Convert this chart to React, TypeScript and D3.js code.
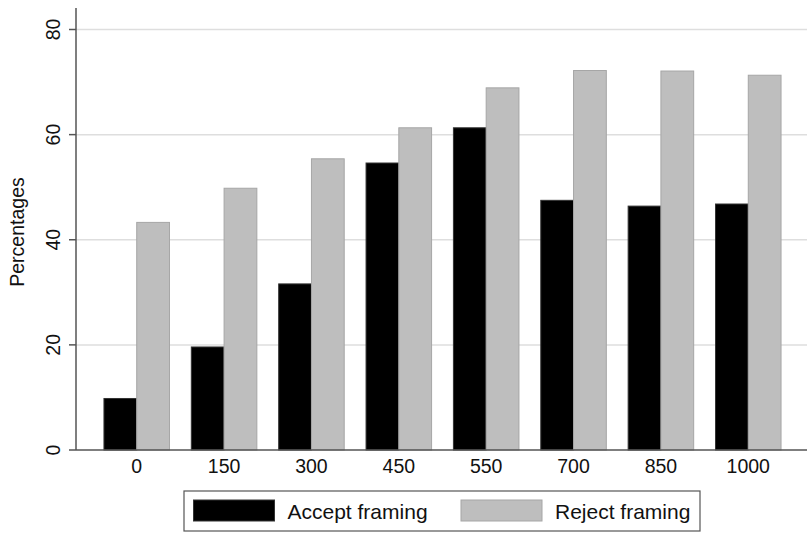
import React, { useEffect, useRef } from "react";
import * as d3 from "d3";

const categories = ["0", "150", "300", "450", "550", "700", "850", "1000"];
const acceptValues = [9.8, 19.6, 31.6, 54.6, 61.3, 47.5, 46.4, 46.8];
const rejectValues = [43.3, 49.8, 55.4, 61.3, 68.9, 72.2, 72.1, 71.3];
const yTicks = [0, 20, 40, 60, 80];
const seriesNames = ["Accept framing", "Reject framing"];

const W = 807;
const H = 533;
const FONT = "'Liberation Sans', Arial, Helvetica, sans-serif";

const App: React.FC = () => {
  const ref = useRef<SVGSVGElement | null>(null);

  useEffect(() => {
    if (!ref.current) return;
    const svg = d3.select(ref.current);
    svg.selectAll("*").remove();

    const left = 76;
    const right = 809;
    const top = 8;
    const bottom = 450;

    const y = d3.scaleLinear().domain([0, 80]).range([bottom, 29.5]);
    const x = d3
      .scaleBand<string>()
      .domain(categories)
      .range([left, right])
      .paddingInner(0.25)
      .paddingOuter(0.32);
    const sub = d3
      .scaleBand<string>()
      .domain(seriesNames)
      .range([0, x.bandwidth()]);

    // gridlines
    svg
      .append("g")
      .selectAll("line")
      .data(yTicks.filter((t) => t > 0))
      .enter()
      .append("line")
      .attr("x1", left)
      .attr("x2", W)
      .attr("y1", (d) => y(d))
      .attr("y2", (d) => y(d))
      .attr("stroke", "#dedede")
      .attr("stroke-width", 1.5);

    const fills = ["#000000", "#bebebe"];
    const strokes = ["#333333", "#a6a6a6"];
    const series = [acceptValues, rejectValues];

    series.forEach((vals, si) => {
      svg
        .append("g")
        .selectAll("rect")
        .data(vals)
        .enter()
        .append("rect")
        .attr("x", (_, i) => (x(categories[i]) ?? 0) + (sub(seriesNames[si]) ?? 0))
        .attr("y", (d) => y(d))
        .attr("width", sub.bandwidth())
        .attr("height", (d) => y(0) - y(d))
        .attr("fill", fills[si])
        .attr("stroke", strokes[si])
        .attr("stroke-width", 1);
    });

    // axes
    svg
      .append("line")
      .attr("x1", left)
      .attr("x2", left)
      .attr("y1", top)
      .attr("y2", bottom)
      .attr("stroke", "#555")
      .attr("stroke-width", 1.5);
    svg
      .append("line")
      .attr("x1", left)
      .attr("x2", W)
      .attr("y1", bottom)
      .attr("y2", bottom)
      .attr("stroke", "#555")
      .attr("stroke-width", 1.5);

    const yt = svg.append("g");
    yTicks.forEach((t) => {
      yt.append("line")
        .attr("x1", left - 7)
        .attr("x2", left)
        .attr("y1", y(t))
        .attr("y2", y(t))
        .attr("stroke", "#555")
        .attr("stroke-width", 1.5);
      yt.append("text")
        .attr("transform", `translate(60,${y(t)}) rotate(-90)`)
        .attr("text-anchor", "middle")
        .attr("font-family", FONT)
        .attr("font-size", 19.5)
        .attr("fill", "#111")
        .text(t);
    });

    svg
      .append("text")
      .attr("transform", `translate(24,232) rotate(-90)`)
      .attr("text-anchor", "middle")
      .attr("font-family", FONT)
      .attr("font-size", 19.5)
      .attr("fill", "#111")
      .text("Percentages");

    svg
      .append("g")
      .selectAll("text")
      .data(categories)
      .enter()
      .append("text")
      .attr("x", (d) => (x(d) ?? 0) + x.bandwidth() / 2)
      .attr("y", 473)
      .attr("text-anchor", "middle")
      .attr("font-family", FONT)
      .attr("font-size", 19.5)
      .attr("fill", "#111")
      .text((d) => d);

    // legend
    const lg = svg.append("g");
    lg.append("rect")
      .attr("x", 184)
      .attr("y", 491)
      .attr("width", 516)
      .attr("height", 40)
      .attr("fill", "#fff")
      .attr("stroke", "#555")
      .attr("stroke-width", 1.2);
    const legendX = [193.5, 461];
    seriesNames.forEach((name, i) => {
      lg.append("rect")
        .attr("x", legendX[i])
        .attr("y", 500)
        .attr("width", 81)
        .attr("height", 21)
        .attr("fill", fills[i])
        .attr("stroke", strokes[i]);
      lg.append("text")
        .attr("x", legendX[i] + 94)
        .attr("y", 519)
        .attr("font-family", FONT)
        .attr("font-size", 21)
        .attr("fill", "#111")
        .text(name);
    });
  }, []);

  return (
    <svg
      ref={ref}
      width={W}
      height={H}
      style={{ position: "absolute", left: 0, top: 0, background: "#fff" }}
    ></svg>
  );
};

export default App;
